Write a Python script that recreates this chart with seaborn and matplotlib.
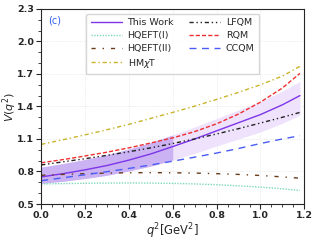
import pandas as pd
import matplotlib
matplotlib.use("Agg")
import matplotlib.pyplot as plt
import seaborn as sns
from matplotlib.ticker import MultipleLocator

# q^2 grid (GeV^2) and form factor values
q2 = [0.0, 0.1, 0.2, 0.3, 0.4, 0.5, 0.6, 0.7, 0.8, 0.9, 1.0, 1.1, 1.18]

this_work = [0.750, 0.780, 0.815, 0.855, 0.905, 0.962, 1.030, 1.100, 1.175, 1.250, 1.325, 1.415, 1.500]
band_lo = [0.690, 0.710, 0.735, 0.765, 0.805, 0.850, 0.906, 0.968, 1.035, 1.100, 1.165, 1.245, 1.320]
band_hi = [0.840, 0.873, 0.911, 0.954, 1.007, 1.067, 1.137, 1.210, 1.289, 1.368, 1.447, 1.541, 1.630]
hqeft1 = [0.685, 0.688, 0.691, 0.693, 0.694, 0.693, 0.690, 0.685, 0.678, 0.668, 0.656, 0.640, 0.625]
hqeft2 = [0.765, 0.773, 0.780, 0.785, 0.788, 0.789, 0.788, 0.785, 0.780, 0.773, 0.763, 0.750, 0.738]
hmxt = [1.050, 1.093, 1.138, 1.185, 1.235, 1.290, 1.345, 1.403, 1.465, 1.530, 1.600, 1.680, 1.770]
lfqm = [0.860, 0.889, 0.918, 0.949, 0.982, 1.018, 1.058, 1.100, 1.146, 1.195, 1.247, 1.300, 1.345]
rqm = [0.880, 0.910, 0.943, 0.978, 1.018, 1.063, 1.110, 1.168, 1.240, 1.330, 1.440, 1.570, 1.705]
ccqm = [0.715, 0.742, 0.770, 0.798, 0.828, 0.860, 0.895, 0.932, 0.970, 1.012, 1.058, 1.100, 1.130]

plt.rcParams['figure.dpi'] = 100
sns.set_style("ticks")
plt.rcParams['font.family'] = ['DejaVu Sans']

fig, ax = plt.subplots(figsize=(3.17, 2.40))
df = pd.DataFrame({"q2": q2, "tw": this_work, "lo": band_lo, "hi": band_hi,
                   "h1": hqeft1, "h2": hqeft2, "hm": hmxt, "lf": lfqm,
                   "rq": rqm, "cc": ccqm})

# uncertainty band: light over full range, darker part below 0.6
ax.fill_between(df.q2, df.lo, df.hi, color="#eee2fc", lw=0)
dark = df[df.q2 <= 0.6]
ax.fill_between(dark.q2, dark.lo, dark.hi, color="#cbb2f3", lw=0)

sns.lineplot(data=df, x="q2", y="tw", ax=ax, color="#7d35e8", lw=1.0, label="This Work")
sns.lineplot(data=df, x="q2", y="h1", ax=ax, color="#7fd8bc", lw=1.0, linestyle=(0, (1, 1)), label="HQEFT(I)")
sns.lineplot(data=df, x="q2", y="h2", ax=ax, color="#6a3c1c", lw=1.0, linestyle=(0, (3, 5, 1, 5)), label="HQEFT(II)")
sns.lineplot(data=df, x="q2", y="hm", ax=ax, color="#c8b42a", lw=1.0, linestyle=(0, (3, 2, 1, 2)), label="HM$\\chi$T")
sns.lineplot(data=df, x="q2", y="lf", ax=ax, color="#222222", lw=1.0, linestyle=(0, (3, 2, 1, 2, 1, 2)), label="LFQM")
sns.lineplot(data=df, x="q2", y="rq", ax=ax, color="#f03030", lw=1.0, linestyle=(0, (3, 1.5)), label="RQM")
sns.lineplot(data=df, x="q2", y="cc", ax=ax, color="#4a5cf5", lw=1.0, linestyle=(0, (5, 4)), label="CCQM")

ax.set_xlim(0, 1.2)
ax.set_ylim(0.5, 2.3)
ax.set_yticks([0.5, 0.8, 1.1, 1.4, 1.7, 2.0, 2.3])
ax.xaxis.set_minor_locator(MultipleLocator(0.05))
ax.yaxis.set_minor_locator(MultipleLocator(0.1))
ax.tick_params(which="both", direction="out", labelsize=6.8, pad=1.5)
ax.tick_params(which="major", length=3.5)
ax.tick_params(which="minor", length=2)
for t in ax.get_xticklabels() + ax.get_yticklabels():
    t.set_fontweight("bold")
ax.grid(True, ls=":", lw=0.5, color="#dddddd")
ax.set_xlabel("$q^2$[GeV$^2$]", fontsize=8.3, labelpad=1)
ax.set_ylabel("$V(q^2)$", fontsize=8)
ax.yaxis.set_label_coords(-0.086, 0.5)
ax.text(0.025, 0.965, "(c)", transform=ax.transAxes, color="#2a5cf0", fontsize=7, va="top")

ax.legend(ncol=2, fontsize=6.8, loc="upper left", bbox_to_anchor=(0.163, 0.985),
          handlelength=3.3, columnspacing=1.6, labelspacing=0.4, borderpad=0.5,
          handletextpad=0.6, borderaxespad=0.2, frameon=True, fancybox=True)

fig.subplots_adjust(left=0.13, right=0.96, top=0.963, bottom=0.15)
fig.savefig("out.png", dpi=100)
